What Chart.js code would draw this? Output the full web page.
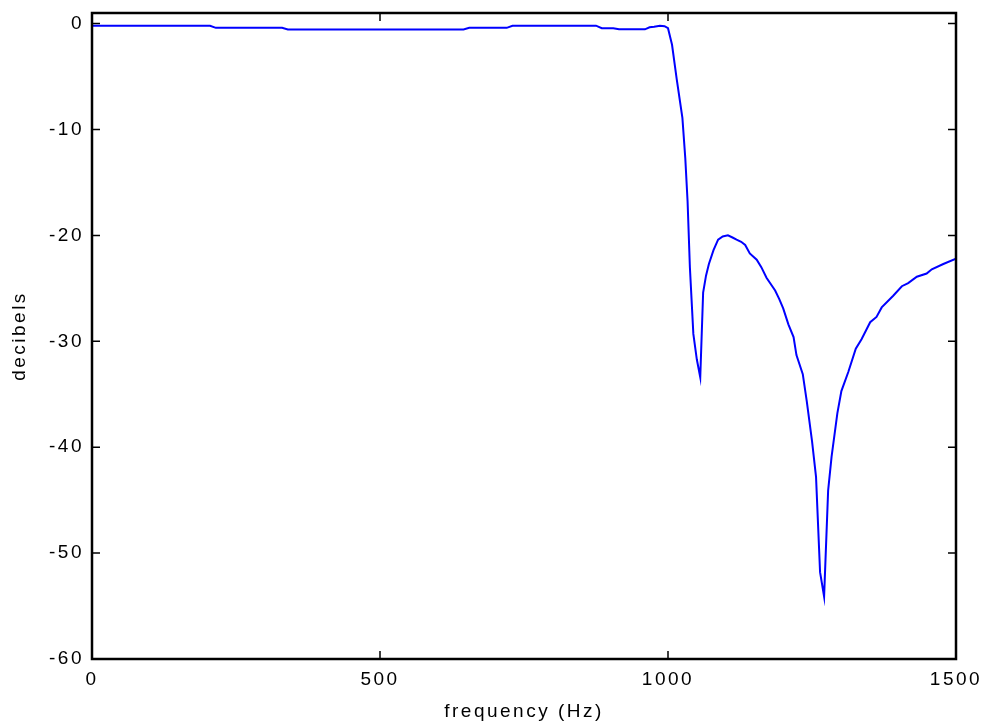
<!DOCTYPE html>
<html lang="en">
<head>
<meta charset="UTF-8">
<title>Frequency response</title>
<script src="https://cdn.jsdelivr.net/npm/chart.js"></script>
<style>
  html, body { margin: 0; padding: 0; background: #fff; }
  #wrap { width: 987px; height: 725px; }
</style>
</head>
<body>
<div id="wrap"><canvas id="resp"></canvas></div>
<script>
// frequency (Hz) and magnitude (dB)
const freqHz = [0, 205, 215, 330, 340, 645, 655, 720, 730, 875, 885, 905, 915, 960, 968, 976, 986, 994,
  1000, 1007, 1015, 1025, 1030, 1034, 1038, 1044, 1050, 1056, 1061, 1066, 1071, 1079, 1087, 1095,
  1104, 1112, 1119, 1127, 1134, 1142, 1154, 1162, 1171, 1186, 1193, 1200, 1209, 1218, 1223, 1234,
  1241, 1250, 1257, 1264, 1271, 1278, 1284, 1294, 1301, 1313, 1326, 1336, 1351, 1362, 1371, 1391,
  1406, 1417, 1432, 1449, 1458, 1478, 1500];
const gainDb = [-0.2, -0.2, -0.4, -0.4, -0.55, -0.55, -0.4, -0.4, -0.2, -0.2, -0.44, -0.44, -0.54, -0.54, -0.35, -0.3, -0.2, -0.25,
  -0.44, -2.0, -5.2, -8.9, -12.7, -16.8, -23.0, -29.3, -31.7, -33.4, -25.4, -23.8, -22.7, -21.4, -20.4, -20.1,
  -20.0, -20.2, -20.4, -20.6, -20.9, -21.7, -22.3, -23.0, -24.0, -25.2, -26.0, -26.9, -28.4, -29.6, -31.3, -33.1,
  -35.7, -39.4, -42.8, -51.8, -54.1, -44.1, -40.9, -36.8, -34.7, -32.9, -30.7, -29.8, -28.2, -27.7, -26.8, -25.7,
  -24.8, -24.5, -23.9, -23.6, -23.2, -22.7, -22.2];
const xTicks = [0, 500, 1000, 1500];
const yTicks = [0, -10, -20, -30, -40, -50, -60];

const SPACING = '2.5px';
const tickFont = { family: 'Liberation Sans, Arial, sans-serif', size: 19 };

// matlab style box with inward ticks on all four sides
const frame = {
  id: 'frame',
  beforeUpdate(chart) { chart.ctx.letterSpacing = SPACING; },
  beforeDraw(chart) { chart.ctx.letterSpacing = SPACING; },
  afterDatasetsDraw(chart) {
    const { ctx, chartArea: a, scales } = chart;
    const len = 8;
    ctx.save();
    ctx.strokeStyle = '#000';
    ctx.lineWidth = 1.5;
    ctx.beginPath();
    xTicks.forEach(v => {
      const px = scales.x.getPixelForValue(v);
      ctx.moveTo(px, a.bottom); ctx.lineTo(px, a.bottom - len);
      ctx.moveTo(px, a.top); ctx.lineTo(px, a.top + len);
    });
    yTicks.forEach(v => {
      const py = scales.y.getPixelForValue(v);
      ctx.moveTo(a.left, py); ctx.lineTo(a.left + len, py);
      ctx.moveTo(a.right, py); ctx.lineTo(a.right - len, py);
    });
    ctx.stroke();
    ctx.lineWidth = 2.5;
    ctx.strokeRect(a.left, a.top, a.right - a.left, a.bottom - a.top);
    ctx.restore();
  }
};

new Chart(document.getElementById('resp'), {
  type: 'line',
  data: {
    datasets: [{
      data: freqHz.map((f, i) => ({ x: f, y: gainDb[i] })),
      borderColor: '#0000ff',
      borderWidth: 2,
      pointRadius: 0,
      tension: 0,
      fill: false
    }]
  },
  options: {
    responsive: true,
    maintainAspectRatio: false,
    animation: false,
    layout: { padding: { top: 13, right: 31, left: 0, bottom: 0 } },
    plugins: { legend: { display: false }, tooltip: { enabled: false } },
    scales: {
      x: {
        type: 'linear',
        min: 0, max: 1500,
        afterFit(s) { s.height = 66; s.paddingLeft = 0; s.paddingRight = 0; },
        afterBuildTicks(s) { s.ticks = xTicks.map(v => ({ value: v })); },
        grid: { display: false, drawTicks: false },
        border: { display: false },
        ticks: { color: '#000', font: tickFont, padding: 9, maxRotation: 0, callback: v => String(v) },
        title: { display: true, text: 'frequency (Hz)', color: '#000', font: tickFont, padding: { top: 0, bottom: 2 } }
      },
      y: {
        min: -60, max: 1,
        afterFit(s) { s.width = 92; s.paddingTop = 0; s.paddingBottom = 0; },
        afterBuildTicks(s) { s.ticks = yTicks.map(v => ({ value: v })); },
        grid: { display: false, drawTicks: false },
        border: { display: false },
        ticks: { color: '#000', font: tickFont, padding: 8, callback: v => String(v) },
        title: { display: true, text: 'decibels', color: '#000', font: tickFont, padding: { top: 8, bottom: 0 } }
      }
    }
  },
  plugins: [frame]
});
</script>
</body>
</html>
